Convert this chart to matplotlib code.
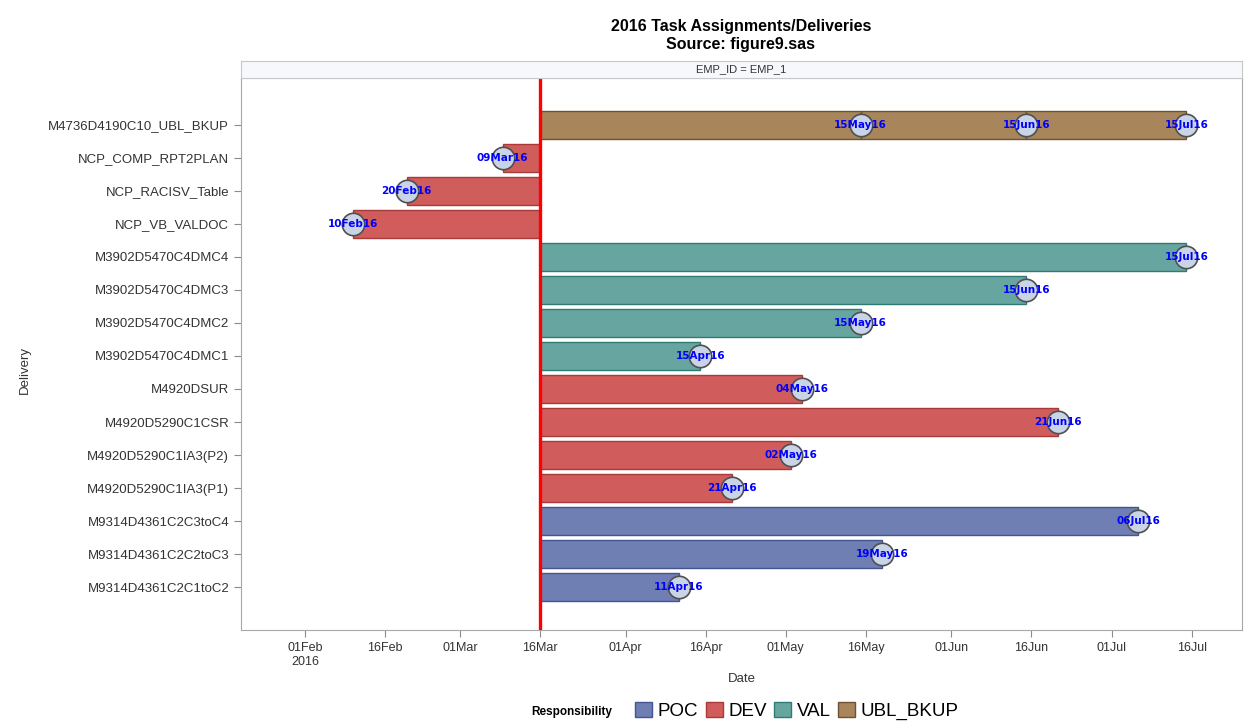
import matplotlib
matplotlib.use('Agg')
import matplotlib.pyplot as plt
import matplotlib.dates as mdates
from matplotlib.patches import Patch
import pandas as pd

plt.rcParams['font.family'] = ['Liberation Sans', 'DejaVu Sans']

# data, top row first
tasks = ['M4736D4190C10_UBL_BKUP', 'NCP_COMP_RPT2PLAN', 'NCP_RACISV_Table', 'NCP_VB_VALDOC',
         'M3902D5470C4DMC4', 'M3902D5470C4DMC3', 'M3902D5470C4DMC2', 'M3902D5470C4DMC1',
         'M4920DSUR', 'M4920D5290C1CSR', 'M4920D5290C1IA3(P2)', 'M4920D5290C1IA3(P1)',
         'M9314D4361C2C3toC4', 'M9314D4361C2C2toC3', 'M9314D4361C2C1toC2']
roles = ['UBL_BKUP', 'DEV', 'DEV', 'DEV',
         'VAL', 'VAL', 'VAL', 'VAL',
         'DEV', 'DEV', 'DEV', 'DEV',
         'POC', 'POC', 'POC']
milestones = [['2016-05-15', '2016-06-15', '2016-07-15'], ['2016-03-09'], ['2016-02-20'], ['2016-02-10'],
              ['2016-07-15'], ['2016-06-15'], ['2016-05-15'], ['2016-04-15'],
              ['2016-05-04'], ['2016-06-21'], ['2016-05-02'], ['2016-04-21'],
              ['2016-07-06'], ['2016-05-19'], ['2016-04-11']]
start_date = '2016-03-16'

legend_roles = ['POC', 'DEV', 'VAL', 'UBL_BKUP']
fill = {'POC': '#6f7fb4', 'DEV': '#d05c5b', 'VAL': '#67a6a0', 'UBL_BKUP': '#a8855a'}
edge = {'POC': '#44558f', 'DEV': '#a83a3a', 'VAL': '#2f7a73', 'UBL_BKUP': '#6e5232'}

fig = plt.figure(figsize=(12.5, 7.27), dpi=100)
ax = fig.add_axes([241/1250, 1 - 630/727, 1001/1250, 552/727])

t0 = mdates.date2num(pd.Timestamp(start_date))
for i, (task, role, ms) in enumerate(zip(tasks, roles, milestones)):
    left = t0
    for d in ms:
        x = mdates.date2num(pd.Timestamp(d))
        ax.barh(i, x - left, left=left, height=0.86, color=fill[role],
                edgecolor=edge[role], linewidth=1, zorder=2)
        left = x
    for d in ms:
        x = mdates.date2num(pd.Timestamp(d))
        ax.scatter(x, i, s=260, facecolor='#c9d4e6', edgecolor='#505050', linewidth=1.2, zorder=4)
        ax.text(x, i, pd.Timestamp(d).strftime('%d%b%y'), color='#0000ff', fontsize=7.5,
                fontweight='bold', ha='center', va='center', zorder=5, family='DejaVu Sans')

ax.axvline(t0, color='#ff0000', linewidth=2.4, zorder=3)

ax.set_yticks(range(len(tasks)))
ax.set_yticklabels(tasks, fontsize=9.5, color='#333333')
ax.set_ylim(len(tasks) - 1 + 1.3, -1.42)

ticks = pd.to_datetime(['2016-02-01', '2016-02-16', '2016-03-01', '2016-03-16', '2016-04-01', '2016-04-16',
                        '2016-05-01', '2016-05-16', '2016-06-01', '2016-06-16', '2016-07-01', '2016-07-16'])
ax.set_xticks(mdates.date2num(ticks))
labels = [t.strftime('%d%b') for t in ticks]
labels[0] = labels[0] + '\n2016'
ax.set_xticklabels(labels, fontsize=9, color='#333333')
ax.set_xlim(mdates.date2num(pd.Timestamp('2016-01-20')), mdates.date2num(pd.Timestamp('2016-07-25 10:00')))

ax.tick_params(colors='#8c8c8c', length=5, labelcolor='#333333')
for s in ax.spines.values():
    s.set_color('#a8a8a8')

ax.set_xlabel('Date', fontsize=9.5, color='#333333', labelpad=4)
fig.text(25/1250, 1 - 370/727, 'Delivery', rotation=90, fontsize=9.5, color='#333333', ha='center', va='center')

# header strip
hdr = fig.add_axes([241/1250, 1 - 78/727, 1001/1250, 17/727])
hdr.set_facecolor('#f7f8fc')
hdr.set_xticks([])
hdr.set_yticks([])
for s in hdr.spines.values():
    s.set_color('#c8c8c8')
hdr.text(0.5, 0.5, 'EMP_ID = EMP_1', ha='center', va='center', fontsize=8, color='#333333')

fig.text(741/1250, 1 - 27/727, '2016 Task Assignments/Deliveries', ha='center', va='center',
         fontsize=11.5, fontweight='bold')
fig.text(741/1250, 1 - 45/727, 'Source: figure9.sas', ha='center', va='center',
         fontsize=11.5, fontweight='bold')

# legend
fig.text(572/1250, 1 - 712/727, 'Responsibility', ha='center', va='center', fontsize=8.5, fontweight='bold')
handles = [Patch(facecolor=fill[r], edgecolor=edge[r]) for r in legend_roles]
fig.legend(handles, legend_roles, loc='center', bbox_to_anchor=(797/1250, 1 - 711/727), ncol=4,
           frameon=False, fontsize=13.5, handlelength=0.9, handleheight=0.9, columnspacing=0.4,
           handletextpad=0.3, borderpad=0)

fig.savefig('out.png', dpi=100)
